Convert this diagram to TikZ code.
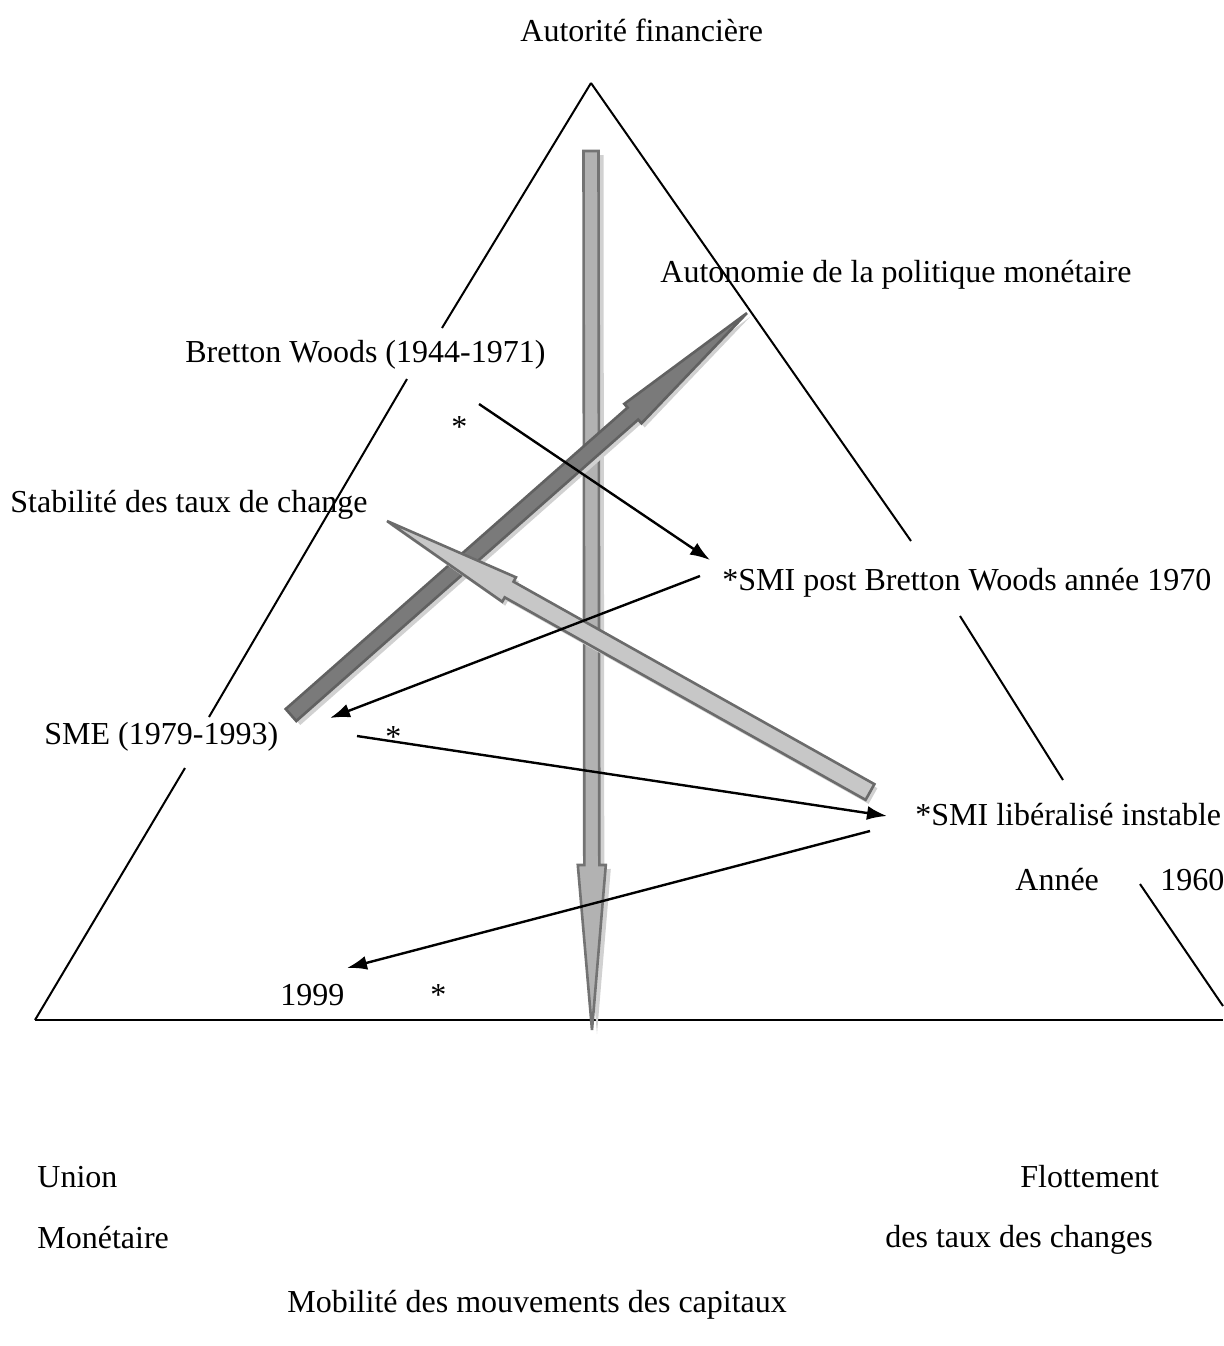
\documentclass[tikz,border=0pt]{standalone}
\usepackage{fontspec}
\setmainfont{Liberation Serif}
\usetikzlibrary{arrows.meta}
\newcommand{\grarrow}[8]{%
  \pgfmathsetmacro{\arrDx}{#3-#1}%
  \pgfmathsetmacro{\arrDy}{#4-#2}%
  \pgfmathsetmacro{\arrLen}{100*veclen(\arrDx/100,\arrDy/100)}%
  \pgfmathsetmacro{\arrAng}{atan2(-\arrDy,\arrDx)}%
  \pgfmathsetmacro{\arrB}{\arrLen-#7}%
  \begin{scope}[shift={(#1,#2)},rotate=\arrAng]
    \path[#8] (0,-#5) -- (\arrB,-#5) -- (\arrB,-#6) -- (\arrLen,0) -- (\arrB,#6) -- (\arrB,#5) -- (0,#5) -- cycle;
  \end{scope}}
\tikzset{
  lbl/.style={anchor=west,inner sep=0pt,font=\fontsize{16}{19}\selectfont},
  side/.style={line width=1pt,black},
  conn/.style={line width=1.2pt,black,-{Latex[length=10pt,width=7pt]}},
  shadowA/.style={fill=black!18,draw=none},
  vertA/.style={fill=black!30,draw=black!55,line width=1.3pt},
  darkA/.style={fill=black!52,draw=black!62,line width=1.3pt},
  lightA/.style={fill=black!22,draw=black!58,line width=1.3pt}
}
\begin{document}
\begin{tikzpicture}[x=0.5pt,y=-0.5pt]
\useasboundingbox (0,0) rectangle (1223,1346);
% triangle
\coordinate (apex) at (591,83);
\coordinate (lc) at (35,1020);
\coordinate (rc) at (1223,1020);
\draw[side] (apex) -- (442,328);
\draw[side] (407,379) -- (209,717);
\draw[side] (185,768) -- (lc);
\draw[side] (apex) -- (911,541);
\draw[side] (960,616) -- (1063,780);
\draw[side] (1140,884) -- (1223,1006);
\draw[side] (lc) -- (rc);
% labels
\node[lbl] (af) at (520,30) {Autorité financière};
\node[lbl] (apm) at (660,275) {Autonomie de la politique monétaire};
\node[lbl] (bw) at (185,355) {Bretton Woods (1944-1971)};
\node[lbl] (bwstar) at (451,427) {*};
\node[lbl] (stc) at (10,505) {Stabilité des taux de change};
\node[lbl] (smip) at (722,583) {*SMI post Bretton Woods année 1970};
\node[lbl] (sme) at (44,737) {SME (1979-1993)};
\node[lbl] (smestar) at (385,737) {*};
\node[lbl] (smil) at (915,815) {*SMI libéralisé instable};
\node[lbl] (annee) at (1015,880) {Année};
\node[lbl] (y60) at (1160,880) {1960};
\node[lbl] (y99) at (280,995) {1999};
\node[lbl] (y99star) at (430,995) {*};
\node[lbl] (union) at (37,1177) {Union};
\node[lbl] (flot) at (1020,1177) {Flottement};
\node[lbl] (mon) at (37,1238) {Monétaire};
\node[lbl] (dtc) at (885,1240) {des taux des changes};
\node[lbl] (mob) at (287,1305) {Mobilité des mouvements des capitaux};
% big gray arrows
\grarrow{596}{155}{597}{1034}{7.5}{14}{165}{shadowA}
\grarrow{591}{151}{592}{1030}{7.5}{14}{165}{vertA}
\grarrow{295}{719}{750}{317}{8}{13}{152}{shadowA}
\grarrow{291}{715}{747}{313}{8}{13}{152}{darkA}
\grarrow{873}{796}{390}{525}{9}{14}{140}{shadowA}
\grarrow{870}{792}{387}{521}{9}{14}{140}{lightA}
% thin arrows
\coordinate (bwS) at (479,404);
\coordinate (smipE) at (710,560);
\coordinate (smipS) at (700,576);
\coordinate (smeE) at (330,718);
\coordinate (smeS) at (357,736);
\coordinate (smilE) at (887,816);
\coordinate (smilS) at (870,831);
\coordinate (y99E) at (347,968);
\draw[conn] (bwS) -- (smipE);
\draw[conn] (smipS) -- (smeE);
\draw[conn] (smeS) -- (smilE);
\draw[conn] (smilS) -- (y99E);
\end{tikzpicture}
\end{document}
